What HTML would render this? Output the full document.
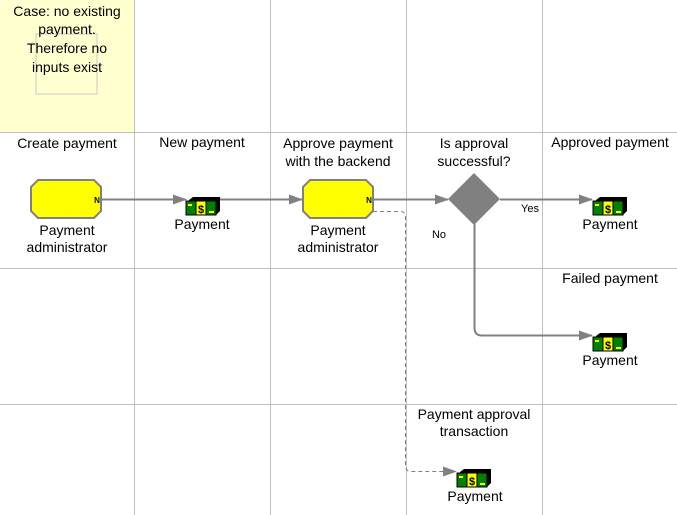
<!DOCTYPE html>
<html><head><style>
body{margin:0;background:#fff;}
svg{display:block;font-family:"Liberation Sans",sans-serif;}
text{font-size:14px;fill:#000;text-anchor:middle;}
.s{font-size:11px;}
</style></head><body>
<svg width="677" height="515" viewBox="0 0 677 515">
<defs>
<g id="m">
<polygon points="3,3 7,0 34,0 34,14 30,18 3,18" fill="#000"/>
<rect x="0" y="4" width="10" height="14" fill="#008000" stroke="#000" stroke-width="1"/>
<rect x="10" y="4" width="10" height="14" fill="#ffff00" stroke="#000" stroke-width="1"/>
<rect x="20" y="4" width="10" height="14" fill="#008000" stroke="#000" stroke-width="1"/>
<text x="15" y="16" style="font-size:11px;font-weight:bold">$</text>
<rect x="2" y="7" width="4" height="2" fill="#ff0"/>
<rect x="23" y="14" width="5" height="2" fill="#ff0"/>
</g>
<marker id="a" markerWidth="14" markerHeight="10" refX="13" refY="5" orient="auto" markerUnits="userSpaceOnUse"><polygon points="0,0 14,5 0,10" fill="#808080"/></marker>
</defs>
<rect x="0" y="0" width="134" height="132" fill="#ffffd0"/>
<rect x="36" y="34" width="61" height="60" fill="none" stroke="#c8c8c8"/>
<g stroke="#c0c0c0" stroke-width="1">
<line x1="134.5" y1="0" x2="134.5" y2="515"/><line x1="270.5" y1="0" x2="270.5" y2="515"/>
<line x1="406.5" y1="0" x2="406.5" y2="515"/><line x1="542.5" y1="0" x2="542.5" y2="515"/>
<line x1="0" y1="132.5" x2="677" y2="132.5"/><line x1="0" y1="268.5" x2="677" y2="268.5"/>
<line x1="0" y1="404.5" x2="677" y2="404.5"/>
</g>
<text x="67" y="16">Case: no existing</text><text x="67" y="34">payment.</text>
<text x="67" y="53">Therefore no</text><text x="67" y="72">inputs exist</text>
<text x="67" y="148">Create payment</text>
<text x="202" y="147">New payment</text>
<text x="338" y="148">Approve payment</text><text x="338" y="166">with the backend</text>
<text x="474" y="148">Is approval</text><text x="474" y="166">successful?</text>
<text x="610" y="147">Approved payment</text>
<text x="610" y="283">Failed payment</text>
<text x="474" y="419">Payment approval</text><text x="474" y="436">transaction</text>
<g stroke="#808080" stroke-width="2" fill="none">
<line x1="101" y1="199.5" x2="186" y2="199.5" marker-end="url(#a)"/>
<line x1="218" y1="199.5" x2="302" y2="199.5" marker-end="url(#a)"/>
<line x1="373" y1="199.5" x2="448" y2="199.5" marker-end="url(#a)"/>
<line x1="500" y1="199.5" x2="592" y2="199.5" marker-end="url(#a)"/>
<path d="M474.5 224 V328 Q474.5 335.5 482 335.5 H592" marker-end="url(#a)"/>
</g>
<path d="M373 211.5 H400 Q405.5 211.5 405.5 217 V466 Q405.5 471.5 411 471.5 H456" stroke="#808080" stroke-width="1" stroke-dasharray="4,3" fill="none" marker-end="url(#a)"/>
<polygon points="474,173 500,199 474,225 448,199" fill="#808080"/>
<polygon points="38,180 94,180 101,187 101,211 94,218 38,218 31,211 31,187" fill="#ffff00" stroke="#808080" stroke-width="2"/>
<polygon points="310,180 366,180 373,187 373,211 366,218 310,218 303,211 303,187" fill="#ffff00" stroke="#808080" stroke-width="2"/>
<text x="97" y="203" style="font-size:8px;font-weight:bold">N</text>
<text x="369" y="203" style="font-size:8px;font-weight:bold">N</text>
<text x="67" y="235">Payment</text><text x="67" y="252">administrator</text>
<text x="338" y="235">Payment</text><text x="338" y="252">administrator</text>
<use href="#m" x="186" y="197"/><use href="#m" x="593" y="197"/>
<use href="#m" x="593" y="333"/><use href="#m" x="457" y="469"/>
<text x="202" y="229">Payment</text><text x="610" y="229">Payment</text>
<text x="610" y="365">Payment</text><text x="475" y="501">Payment</text>
<text x="530" y="212" class="s">Yes</text><text x="439" y="238" class="s">No</text>
</svg>
</body></html>
